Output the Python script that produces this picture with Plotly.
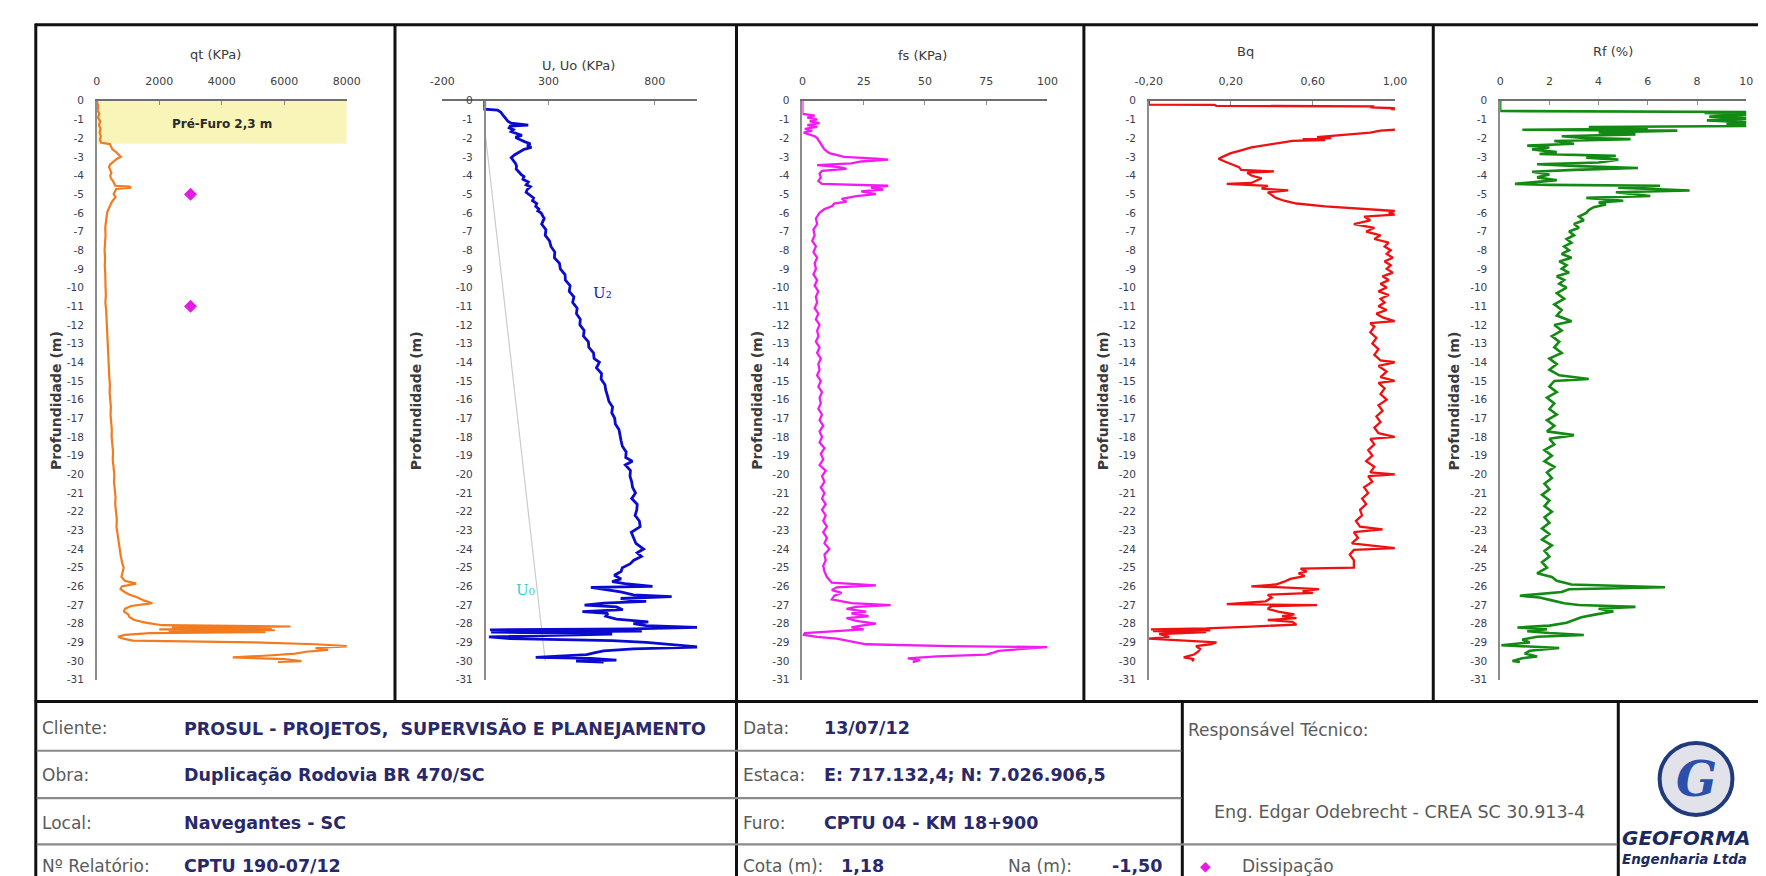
import plotly.graph_objects as go

W, H = 1766, 876

# ---------------- axis ticks ----------------
depth_ticks = [0, -1, -2, -3, -4, -5, -6, -7, -8, -9, -10, -11, -12, -13, -14, -15,
               -16, -17, -18, -19, -20, -21, -22, -23, -24, -25, -26, -27, -28, -29, -30, -31]
depth_labels = ["0", "-1", "-2", "-3", "-4", "-5", "-6", "-7", "-8", "-9", "-10", "-11", "-12",
                "-13", "-14", "-15", "-16", "-17", "-18", "-19", "-20", "-21", "-22", "-23",
                "-24", "-25", "-26", "-27", "-28", "-29", "-30", "-31"]
qt_ticks = [0, 2000, 4000, 6000, 8000]
qt_labels = ["0", "2000", "4000", "6000", "8000"]
u_ticks = [-200, 300, 800]
u_labels = ["-200", "300", "800"]
fs_ticks = [0, 25, 50, 75, 100]
fs_labels = ["0", "25", "50", "75", "100"]
bq_ticks = [-0.2, 0.2, 0.6, 1.0]
bq_labels = ["-0,20", "0,20", "0,60", "1,00"]
rf_ticks = [0, 2, 4, 6, 8, 10]
rf_labels = ["0", "2", "4", "6", "8", "10"]

# ---------------- series ----------------
qt_depth = [0, -0.3, -0.5, -0.7, -0.9, -1.1, -1.3, -1.5, -1.7, -1.9,
            -2.1, -2.25, -2.32, -2.45, -2.6, -2.75, -2.9, -3.0, -3.1, -3.25,
            -3.4, -3.55, -3.7, -3.85, -4.0, -4.15, -4.3, -4.45, -4.55, -4.6,
            -4.65, -4.72, -4.85, -5.0, -5.15, -5.3, -5.45, -5.6, -5.75, -5.9,
            -6.0, -6.4, -6.8, -7.2, -7.6, -8.0, -8.4, -8.8, -9.2, -9.6,
            -10.0, -10.4, -10.8, -11.2, -11.6, -12.0, -12.4, -12.8, -13.2, -13.6,
            -14.0, -14.4, -14.8, -15.2, -15.6, -16.0, -16.4, -16.8, -17.2, -17.6,
            -18.0, -18.4, -18.8, -19.2, -19.6, -20.0, -20.4, -20.8, -21.2, -21.6,
            -22.0, -22.4, -22.8, -23.2, -23.6, -24.0, -24.4, -24.8, -25.0, -25.2,
            -25.5, -25.7, -25.85, -26.0, -26.15, -26.3, -26.45, -26.6, -26.75, -26.9,
            -27.05, -27.2, -27.35, -27.5, -27.65, -27.8, -27.95, -28.08, -28.15, -28.2,
            -28.25, -28.3, -28.35, -28.4, -28.45, -28.5, -28.6, -28.7, -28.8, -28.9,
            -29.0, -29.1, -29.2, -29.3, -29.4, -29.5, -29.6, -29.7, -29.8, -29.9,
            -30.0, -30.05]
qt_kpa = [0, 50, 20, 80, 40, 110, 70, 120, 90, 130,
          100, 140, 420, 460, 500, 620, 720, 770, 650, 540,
          430, 390, 420, 470, 430, 450, 520, 560, 590, 1050,
          1100, 620, 580, 540, 600, 520, 470, 430, 380, 350,
          330, 300, 270, 280, 255, 250, 265, 255, 270, 265,
          280, 290, 275, 300, 310, 320, 335, 350, 340, 370,
          380, 375, 400, 420, 410, 430, 450, 440, 470, 480,
          475, 500, 520, 510, 540, 560, 550, 580, 600, 590,
          620, 640, 630, 660, 690, 720, 770, 820, 860, 830,
          790, 900, 1260, 800, 760, 890, 1050, 1310, 1500, 1780,
          1100, 900, 870, 1000, 1050, 1200, 1600, 2100, 6200, 2400,
          5600, 2000, 5700, 2300, 5400, 1700, 900, 680, 850, 1150,
          5000, 7000, 8100, 7000, 7400, 6700, 6350, 5500, 4350, 6000,
          6550, 5800]

diss_depth = [-5.0, -11.0]
diss_qt = [3000, 3000]
prefuro_depth = -2.3

u2_depth = [0, -0.45, -0.5, -0.6, -0.75, -0.9, -1.0, -1.1, -1.2, -1.3,
            -1.35, -1.45, -1.55, -1.65, -1.75, -1.85, -1.95, -2.05, -2.2, -2.3,
            -2.4, -2.5, -2.6, -2.75, -2.9, -3.05, -3.2, -3.35, -3.5, -3.65,
            -3.8, -3.95, -4.05, -4.2, -4.35, -4.5, -4.6, -4.75, -4.9, -5.05,
            -5.2, -5.35, -5.5, -5.65, -5.8, -5.9, -6.0, -6.3, -6.6, -6.9,
            -7.2, -7.5, -7.8, -8.1, -8.4, -8.7, -9.0, -9.3, -9.6, -9.9,
            -10.2, -10.5, -10.8, -11.1, -11.4, -11.7, -12.0, -12.3, -12.6, -12.9,
            -13.2, -13.5, -13.8, -14.0, -14.3, -14.6, -14.9, -15.2, -15.5, -15.8,
            -16.1, -16.4, -16.7, -17.0, -17.3, -17.6, -17.9, -18.2, -18.5, -18.8,
            -19.1, -19.3, -19.5, -19.8, -20.1, -20.4, -20.7, -21.0, -21.3, -21.6,
            -21.9, -22.2, -22.5, -22.8, -23.1, -23.4, -23.7, -24.0, -24.2, -24.4,
            -24.6, -24.8, -25.0, -25.2, -25.4, -25.6, -25.75, -25.85, -26.0, -26.05,
            -26.15, -26.3, -26.45, -26.55, -26.65, -26.8, -26.9, -27.0, -27.1, -27.25,
            -27.35, -27.45, -27.6, -27.75, -27.9, -28.0, -28.1, -28.2, -28.28, -28.33,
            -28.4, -28.45, -28.55, -28.7, -28.8, -28.9, -29.0, -29.15, -29.25, -29.35,
            -29.45, -29.55, -29.65, -29.8, -29.85, -29.95, -30.0, -30.05]
u2_kpa = [0, 0, 60, 75, 85, 95, 100, 110, 125, 205,
          120, 115, 135, 125, 150, 175, 145, 160, 190, 215,
          200, 220, 185, 160, 140, 125, 135, 145, 150, 148,
          160, 172, 185, 180, 205, 195, 215, 200, 195, 210,
          230, 225, 245, 240, 255, 250, 265, 280, 268, 288,
          285, 305, 312, 330, 328, 352, 356, 378, 380, 402,
          398, 420, 414, 435, 432, 450, 448, 468, 465, 488,
          490, 512, 515, 540, 526, 550, 548, 566, 570, 578,
          585, 602, 598, 612, 615, 632, 636, 642, 648, 666,
          664, 695, 662, 686, 684, 692, 696, 710, 692, 718,
          716, 708, 728, 732, 690, 702, 712, 748, 718, 738,
          702, 684, 648, 642, 610, 642, 600, 660, 790, 500,
          560, 640, 700, 880, 640, 760, 560, 470, 620, 650,
          460, 580, 570, 620, 770, 700, 760, 1000, 700, 25,
          740, 30, 600, 20, 120, 600, 760, 900, 1010, 700,
          560, 520, 480, 240, 500, 620, 430, 560]

u0_depth = [0, -1.5, -30.0]
u0_kpa = [0, 0, 285]

fs_depth = [0, -0.7, -0.75, -0.8, -0.9, -1.0, -1.1, -1.2, -1.3, -1.4,
            -1.5, -1.6, -1.7, -1.8, -1.9, -2.0, -2.2, -2.4, -2.6, -2.8,
            -2.9, -3.0, -3.1, -3.15, -3.25, -3.35, -3.45, -3.55, -3.65, -3.75,
            -3.9, -4.1, -4.3, -4.45, -4.55, -4.65, -4.75, -4.85, -5.0, -5.1,
            -5.25, -5.4, -5.5, -5.65, -5.8, -6.0, -6.3, -6.6, -6.9, -7.2,
            -7.5, -7.8, -8.1, -8.4, -8.7, -9.0, -9.3, -9.6, -9.9, -10.2,
            -10.5, -10.8, -11.1, -11.4, -11.7, -12.0, -12.3, -12.6, -12.9, -13.2,
            -13.5, -13.8, -14.1, -14.4, -14.7, -15.0, -15.3, -15.6, -15.9, -16.2,
            -16.5, -16.8, -17.1, -17.4, -17.7, -18.0, -18.3, -18.6, -18.9, -19.2,
            -19.5, -19.8, -20.1, -20.4, -20.7, -21.0, -21.3, -21.6, -21.9, -22.2,
            -22.5, -22.8, -23.1, -23.4, -23.7, -24.0, -24.3, -24.6, -24.9, -25.2,
            -25.5, -25.8, -25.95, -26.05, -26.2, -26.35, -26.5, -26.7, -26.9, -27.0,
            -27.1, -27.2, -27.35, -27.45, -27.6, -27.7, -27.85, -28.0, -28.1, -28.2,
            -28.3, -28.4, -28.5, -28.6, -28.7, -28.8, -28.9, -29.0, -29.1, -29.2,
            -29.25, -29.35, -29.45, -29.55, -29.65, -29.75, -29.85, -29.95, -30.05]
fs_kpa = [0, 0, 3, 5, 2, 6, 3, 7, 2, 6,
          1, 4, 0.5, 3, 5, 6, 7, 8, 9, 11,
          14, 17, 30, 35, 24, 20, 6, 15, 18, 8,
          7, 7.5, 6.5, 8, 35, 28, 33, 24, 30, 22,
          16, 18, 13, 12, 9, 7, 5.5, 6, 4.5, 5,
          4, 5.5, 4.5, 6, 5, 5.5, 4.5, 6, 5, 6.5,
          5.5, 6, 5, 6.5, 5.5, 7, 6, 6.5, 5.5, 7,
          6, 7.5, 6.5, 7, 6, 7.5, 6.5, 8, 7, 7.5,
          6.5, 8, 7, 8.5, 7, 8, 7, 9, 7.5, 8.5,
          7, 9.5, 8, 9, 7.5, 9, 8, 9.5, 8, 9.5,
          8.5, 10, 8.5, 10, 9, 11, 9, 9.5, 8.5, 9,
          10, 12, 30, 14, 12, 16, 13, 12, 20, 36,
          22, 18, 26, 20, 27, 18, 22, 30, 24, 20,
          25, 12, 1, 0.5, 6, 14, 18, 22, 26, 60,
          100, 90, 80, 78, 75, 55, 43, 48, 45]

bq_depth = [0, -0.15, -0.2, -0.22, -0.27, -0.3, -0.35, -0.4, -0.45, -0.5,
            -0.8, -1.2, -1.5, -1.55, -1.6, -1.7, -1.8, -1.9, -1.95, -2.0,
            -2.05, -2.1, -2.15, -2.25, -2.35, -2.5, -2.65, -2.8, -2.95, -3.1,
            -3.25, -3.4, -3.55, -3.7, -3.78, -3.85, -4.0, -4.15, -4.3, -4.4,
            -4.45, -4.55, -4.7, -4.8, -4.9, -5.05, -5.2, -5.35, -5.5, -5.65,
            -5.8, -5.9, -6.0, -6.1, -6.2, -6.4, -6.6, -6.8, -7.0, -7.2,
            -7.4, -7.6, -7.8, -8.0, -8.2, -8.4, -8.6, -8.8, -9.0, -9.2,
            -9.4, -9.6, -9.8, -10.0, -10.2, -10.4, -10.6, -10.8, -11.0, -11.2,
            -11.4, -11.6, -11.8, -11.9, -12.1, -12.4, -12.7, -13.0, -13.3, -13.6,
            -13.9, -14.0, -14.2, -14.5, -14.8, -15.0, -15.1, -15.4, -15.7, -16.0,
            -16.3, -16.6, -16.9, -17.2, -17.5, -17.8, -18.0, -18.1, -18.4, -18.7,
            -19.0, -19.3, -19.6, -19.9, -20.0, -20.1, -20.4, -20.7, -21.0, -21.3,
            -21.6, -21.9, -22.2, -22.5, -22.8, -22.95, -23.1, -23.4, -23.7, -23.95,
            -24.05, -24.3, -24.6, -24.9, -25.0, -25.05, -25.2, -25.3, -25.45, -25.6,
            -25.75, -25.9, -26.0, -26.05, -26.15, -26.25, -26.35, -26.45, -26.6, -26.8,
            -26.95, -27.0, -27.05, -27.2, -27.35, -27.5, -27.6, -27.7, -27.8, -27.9,
            -28.05, -28.15, -28.25, -28.3, -28.35, -28.4, -28.45, -28.55, -28.7, -28.8,
            -28.9, -29.0, -29.1, -29.2, -29.35, -29.5, -29.65, -29.8, -29.9, -30.0]
bq_val = [-0.2, -0.2, -0.2, 0.12, 0.13, 0.9, 0.88, 1.0, 0.98, 1.2,
          1.6, 1.5, 1.3, 1.0, 0.93, 0.88, 0.78, 0.7, 0.62, 0.69,
          0.55, 0.66, 0.5, 0.44, 0.38, 0.3, 0.25, 0.2, 0.17, 0.14,
          0.17, 0.21, 0.24, 0.25, 0.41, 0.28, 0.3, 0.35, 0.32, 0.3,
          0.18, 0.38, 0.35, 0.48, 0.38, 0.4, 0.42, 0.46, 0.52, 0.66,
          0.85, 1.0, 0.97, 1.0, 0.85, 0.88, 0.8, 0.9, 0.86, 0.93,
          0.9, 0.97, 0.95, 0.98, 0.96, 0.99, 0.95, 0.98, 0.96, 0.99,
          0.94, 0.97, 0.93, 0.96, 0.92, 0.97, 0.93, 0.95, 0.92, 0.96,
          0.91, 0.94, 1.0, 0.88, 0.9, 0.88, 0.91, 0.89, 0.92, 0.9,
          0.93, 1.0, 0.92, 0.96, 0.93, 1.0, 0.92, 0.95, 0.93, 0.96,
          0.92, 0.94, 0.91, 0.93, 0.9, 0.92, 1.0, 0.88, 0.9, 0.87,
          0.89, 0.86, 0.9, 0.88, 1.0, 0.87, 0.89, 0.85, 0.87, 0.84,
          0.86, 0.83, 0.84, 0.81, 0.83, 0.94, 0.8, 0.82, 0.79, 1.0,
          0.8, 0.78, 0.8, 0.8, 0.8, 0.54, 0.57, 0.53, 0.56, 0.49,
          0.46, 0.42, 0.3, 0.45, 0.63, 0.55, 0.6, 0.38, 0.4, 0.37,
          0.18, 0.62, 0.4, 0.38, 0.43, 0.51, 0.45, 0.52, 0.38, 0.5,
          0.52, 0.3, 0.08, -0.19, 0.1, -0.18, 0.08, -0.15, -0.1, -0.2,
          -0.05, 0.13, 0.1, 0.03, 0.05, 0.04, 0.02, -0.03, 0.02, 0.01]

rf_depth = [0, -0.55, -0.6, -0.65, -0.75, -0.85, -0.95, -1.05, -1.15, -1.25,
            -1.35, -1.4, -1.5, -1.55, -1.6, -1.7, -1.8, -1.9, -2.0, -2.05,
            -2.15, -2.3, -2.4, -2.5, -2.6, -2.75, -2.85, -2.95, -3.05, -3.15,
            -3.3, -3.4, -3.5, -3.6, -3.7, -3.8, -3.95, -4.1, -4.25, -4.35,
            -4.45, -4.5, -4.55, -4.65, -4.8, -4.9, -5.0, -5.1, -5.2, -5.35,
            -5.45, -5.55, -5.7, -5.85, -6.0, -6.2, -6.4, -6.6, -6.8, -7.0,
            -7.2, -7.4, -7.6, -7.8, -8.0, -8.2, -8.4, -8.6, -8.8, -9.0,
            -9.2, -9.4, -9.6, -9.8, -10.0, -10.3, -10.6, -10.9, -11.2, -11.5,
            -11.8, -12.0, -12.3, -12.6, -12.9, -13.2, -13.5, -13.8, -14.1, -14.4,
            -14.7, -14.9, -15.0, -15.3, -15.6, -15.9, -16.2, -16.5, -16.8, -17.1,
            -17.4, -17.7, -17.9, -18.1, -18.4, -18.7, -19.0, -19.3, -19.6, -19.9,
            -20.2, -20.5, -20.8, -21.1, -21.4, -21.7, -22.0, -22.3, -22.6, -22.9,
            -23.2, -23.5, -23.8, -24.1, -24.4, -24.7, -25.0, -25.3, -25.5, -25.7,
            -25.9, -26.05, -26.15, -26.3, -26.5, -26.6, -26.75, -26.9, -27.0, -27.1,
            -27.2, -27.35, -27.5, -27.65, -27.8, -27.95, -28.1, -28.2, -28.3, -28.4,
            -28.5, -28.6, -28.7, -28.85, -29.0, -29.15, -29.3, -29.45, -29.6, -29.75,
            -29.85, -30.0, -30.05]
rf_pct = [0, 0, 10.5, 8.3, 10.2, 8.5, 10.3, 8.4, 10.2, 9.2,
          10.3, 3.6, 6.0, 0.9, 7.2, 4.0, 5.5, 2.5, 3.5, 5.3,
          2.2, 3.0, 1.1, 2.0, 1.3, 2.3, 1.6, 4.7, 3.5, 4.8,
          4.0, 1.5, 3.2, 5.6, 3.0, 1.3, 2.0, 1.5, 2.3, 1.5,
          0.6, 2.0, 6.5, 4.8, 7.7, 4.7, 5.5, 6.1, 3.5, 5.0,
          4.0, 4.3, 3.8, 3.6, 3.5, 3.2, 3.4, 3.0, 3.2, 2.8,
          3.0, 2.7, 2.9, 2.6, 2.8, 2.5, 2.9, 2.4, 2.7, 2.5,
          2.8, 2.3, 2.6, 2.4, 2.7, 2.3, 2.6, 2.2, 2.5, 2.3,
          2.9, 2.2, 2.5, 2.1, 2.4, 2.2, 2.5, 2.0, 2.3, 2.0,
          2.4, 3.6, 2.2, 2.0, 2.3, 1.9, 2.2, 2.0, 2.3, 1.9,
          2.2, 1.9, 3.0, 2.0, 2.2, 1.8, 2.1, 1.8, 2.2, 1.9,
          2.1, 1.8, 2.0, 1.7, 2.0, 1.8, 2.1, 1.8, 2.0, 1.7,
          2.0, 1.7, 2.1, 1.8, 2.0, 1.7, 1.9, 1.5, 2.1, 2.3,
          2.9, 6.7, 2.8, 2.5, 0.8, 1.6, 2.1, 2.6, 3.2, 5.5,
          4.0, 4.6, 3.9, 3.3, 3.0, 2.7, 2.0, 0.7, 1.9, 1.1,
          2.0, 3.4, 1.5, 0.9, 1.2, 0.05, 2.4, 1.2, 1.0, 1.5,
          0.9, 0.5, 0.8]

# ---------------- report table texts ----------------
left_labels = ["Cliente:", "Obra:", "Local:", "Nº Relatório:"]
left_values = ["PROSUL - PROJETOS,\u00a0 SUPERVISÃO E PLANEJAMENTO",
               "Duplicação Rodovia BR 470/SC", "Navegantes - SC", "CPTU 190-07/12"]
mid_labels = ["Data:", "Estaca:", "Furo:", "Cota (m):"]
mid_values = ["13/07/12", "E: 717.132,4; N: 7.026.906,5", "CPTU 04 - KM 18+900", "1,18"]
na_label, na_value = "Na (m):", "-1,50"
resp_label = "Responsável Técnico:"
resp_name = "Eng. Edgar Odebrecht - CREA SC 30.913-4"
legend_text = "Dissipação"
panel_titles = ["qt (KPa)", "U, Uo (KPa)", "fs (KPa)", "Bq", "Rf (%)"]

# ---------------- layout helpers ----------------
def px(x):
    return x / W

def py(y):
    return 1 - y / H

FONT = "DejaVu Sans"
Y_TOP, Y_BOT = 88, 675
ydom = [py(Y_BOT), py(Y_TOP)]

panels = [
    dict(dom=(76, 330), rng=[0, 8000], tv=qt_ticks, tt=qt_labels),
    dict(dom=(427, 686), rng=[-200, 1000], tv=u_ticks, tt=u_labels),
    dict(dom=(793, 1042), rng=[0, 100], tv=fs_ticks, tt=fs_labels),
    dict(dom=(1145, 1395), rng=[-0.2, 1.0], tv=bq_ticks, tt=bq_labels),
    dict(dom=(1502, 1752), rng=[0, 10], tv=rf_ticks, tt=rf_labels),
]

fig = go.Figure()

def add_line(i, xs, ys, color, width=2.5):
    suffix = "" if i == 1 else str(i)
    fig.add_trace(go.Scatter(x=xs, y=ys, mode="lines", xaxis="x" + suffix, yaxis="y" + suffix,
                             line=dict(color=color, width=width), showlegend=False,
                             hoverinfo="skip"))

add_line(1, qt_kpa, qt_depth, "#F27A1F", 2.2)
fig.add_trace(go.Scatter(x=diss_qt, y=diss_depth, mode="markers", xaxis="x", yaxis="y",
                         marker=dict(symbol="diamond", size=10, color="#E41BE4"),
                         showlegend=False, hoverinfo="skip"))
add_line(2, u0_kpa, u0_depth, "#C9CCC9", 1.2)
add_line(2, u2_kpa, u2_depth, "#0B0BD0", 2.8)
add_line(3, fs_kpa, fs_depth, "#F21CF2", 2.3)
add_line(4, bq_val, bq_depth, "#EE1111", 2.3)
add_line(5, rf_pct, rf_depth, "#138A13", 2.6)

layout = dict(width=W, height=H, margin=dict(l=0, r=0, t=0, b=0),
              paper_bgcolor="white", plot_bgcolor="white", showlegend=False)

for i, p in enumerate(panels, start=1):
    s = "" if i == 1 else str(i)
    layout["xaxis" + s] = dict(
        domain=[px(p["dom"][0]), px(p["dom"][1])], range=p["rng"], side="top",
        anchor="y" + s, tickmode="array", tickvals=p["tv"], ticktext=p["tt"],
        showline=True, linecolor="#6e6e6e", linewidth=2, ticks="inside", ticklen=4,
        tickcolor="#8a8a8a", showgrid=False, zeroline=False, ticklabelstandoff=9,
        tickfont=dict(family=FONT, size=11, color="#404040"), fixedrange=True)
    yax = dict(
        domain=ydom, range=[-31, 0], tickmode="array", tickvals=depth_ticks,
        ticktext=depth_labels, showline=True, linecolor="#8c8c8c", linewidth=1.6,
        showgrid=False, zeroline=False, ticks="", ticklabelstandoff=9,
        tickfont=dict(family=FONT, size=10.5, color="#3c3c52"), fixedrange=True)
    if i == 2:
        d0, d1 = px(p["dom"][0]), px(p["dom"][1])
        r0, r1 = p["rng"]
        yax["anchor"] = "free"
        yax["position"] = d0 + (0 - r0) / (r1 - r0) * (d1 - d0)
    else:
        yax["anchor"] = "x" + s
    layout["yaxis" + s] = yax

fig.update_layout(**layout)

# ---------------- frame & table lines ----------------
BLACK = "#111111"
GRAY = "#8a8a8a"
shapes = []

def hline(y, x0, x1, color=BLACK, w=3):
    shapes.append(dict(type="line", xref="paper", yref="paper", x0=px(x0), x1=px(x1),
                       y0=py(y), y1=py(y), line=dict(color=color, width=w)))

def vline(x, y0, y1, color=BLACK, w=3):
    shapes.append(dict(type="line", xref="paper", yref="paper", x0=px(x), x1=px(x),
                       y0=py(y0), y1=py(y1), line=dict(color=color, width=w)))

TABLE_TOP = 697
hline(11, 13, 1766)
vline(14, 10, 876)
for xd in [379, 726, 1079, 1434]:
    vline(xd, 11, TABLE_TOP)
hline(TABLE_TOP, 13, 1766)
vline(726, TABLE_TOP, 876)
vline(1179, TABLE_TOP, 876)
vline(1622, TABLE_TOP, 876)
row_lines = [747, 795, 842]
for yl in row_lines[:2]:
    hline(yl, 15, 1178, GRAY, 2.2)
hline(row_lines[2], 15, 1621, GRAY, 2.2)

# pre-furo rectangle (data coordinates of panel 1)
shapes.append(dict(type="rect", xref="x", yref="y", x0=qt_ticks[0], x1=qt_ticks[-1],
                   y0=0, y1=prefuro_depth, fillcolor="#F9F4B8", line=dict(width=0),
                   layer="below"))
# logo circle
shapes.append(dict(type="circle", xref="paper", yref="paper", x0=px(1664), x1=px(1738),
                   y0=py(812), y1=py(739), fillcolor="#E1E2EA",
                   line=dict(color="#1F3B7C", width=4)))
fig.update_layout(shapes=shapes)

# ---------------- annotations ----------------
ann = []

def text(x, y, t, size=14, color="#333", bold=False, anchor="left", family=FONT,
         italic=False, angle=0, xref="paper", yref="paper"):
    if bold:
        t = "<b>" + t + "</b>"
    if italic:
        t = "<i>" + t + "</i>"
    ann.append(dict(x=px(x) if xref == "paper" else x, y=py(y) if yref == "paper" else y,
                    xref=xref, yref=yref, text=t, showarrow=False, xanchor=anchor,
                    yanchor="middle", textangle=angle,
                    font=dict(family=family, size=size, color=color)))

title_pos = [(197, 41), (565, 52), (915, 42), (1243, 38), (1617, 38)]
for (tx, ty), t in zip(title_pos, panel_titles):
    text(tx, ty, t, size=13, color="#3a3a3a", anchor="center")

ylab_x = [34, 400, 746, 1098, 1455]
for xl in ylab_x:
    text(xl, 392, "Profundidade (m)", size=14, color="#3a3a3a", bold=True,
         anchor="center", angle=-90)

text(4000, -1.25, "Pré-Furo 2,3 m", size=12, color="#2a2a2a", bold=True,
     anchor="center", xref="x", yref="y")
text(500, -10.3, "U\u2082", size=15, color="#1a1ac0", family="DejaVu Serif",
     xref="x2", yref="y2")
text(140, -26.2, "U\u2080", size=15, color="#35D0D0", family="DejaVu Serif",
     xref="x2", yref="y2")

row_y = [724, 772, 820, 864]
LABEL_C = "#5a5a5a"
VALUE_C = "#29296a"
LBL = 17
VAL = 17.5
for yy, lab, val in zip(row_y, left_labels, left_values):
    text(18, yy, lab, size=LBL, color=LABEL_C)
    text(163, yy, val, size=VAL, color=VALUE_C, bold=True)
for yy, lab, val in zip(row_y, mid_labels, mid_values):
    text(731, yy, lab, size=LBL, color=LABEL_C)
    text(813 if lab != "Cota (m):" else 830, yy, val, size=VAL, color=VALUE_C, bold=True)
text(1000, row_y[3], na_label, size=LBL, color=LABEL_C)
text(1106, row_y[3], na_value, size=VAL, color=VALUE_C, bold=True)
text(1183, 726, resp_label, size=LBL, color=LABEL_C)
text(1400, 809, resp_name, size=17.5, color=LABEL_C, anchor="center")
text(1203, row_y[3], "◆", size=14, color="#E41BE4", anchor="center")
text(1238, row_y[3], legend_text, size=LBL, color=LABEL_C)

# logo texts
text(1701, 776, "G", size=48, color="#2B4FAA", bold=True, italic=True, anchor="center",
     family="DejaVu Serif")
text(1624, 835, "GEOFORMA", size=20, color="#1B2A5E", bold=True, italic=True)
text(1624, 857, "Engenharia Ltda", size=13.5, color="#1B2A5E", bold=True, italic=True)

fig.update_layout(annotations=ann)

fig.write_html("out.html")
